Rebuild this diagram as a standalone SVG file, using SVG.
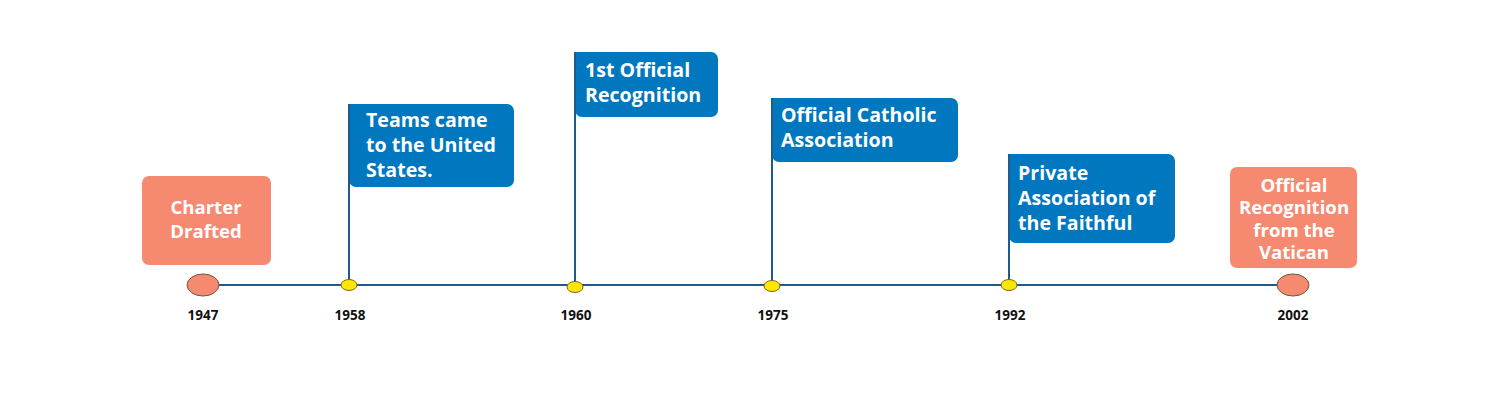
<svg xmlns="http://www.w3.org/2000/svg" width="1500" height="400" viewBox="0 0 1500 400">
<style>
.flag{fill:#0077BE}
.pole{stroke:#1F5A8A;stroke-width:2;fill:none}
.salmon{fill:#F58A71}
.ft{font-family:"Open Sans","Liberation Sans",sans-serif;font-weight:bold;font-size:19.6px;fill:#fff}
.st{font-family:"Open Sans","Liberation Sans",sans-serif;font-weight:bold;font-size:18.6px;fill:#fff;text-anchor:middle}
.yr{font-family:"Open Sans","Liberation Sans",sans-serif;font-weight:bold;font-size:13.5px;fill:#111;text-anchor:middle}
.dot{fill:#FFE600;stroke:#7A6A20;stroke-width:1}
.big{fill:#F58A71;stroke:#6B5A3A;stroke-width:1}
</style>
<rect width="1500" height="400" fill="#fff"/>
<g id="connectors">
<line class="pole" x1="219" y1="285" x2="1278" y2="285"/>
</g>
<g id="n1947">
<rect class="salmon" x="142" y="176" width="129" height="89" rx="7"/>
<text class="st" x="206" y="214">Charter</text>
<text class="st" x="206" y="238">Drafted</text>
<ellipse class="big" cx="203" cy="285" rx="16" ry="11"/>
<text class="yr" x="203" y="320">1947</text>
</g>
<g id="n1958">
<path class="flag" d="M349 104H507a7 7 0 0 1 7 7V180a7 7 0 0 1-7 7H356a7 7 0 0 1-7-7Z"/>
<line class="pole" x1="349" y1="104" x2="349" y2="285"/>
<text class="ft" x="366" y="127">Teams came</text>
<text class="ft" x="366" y="152">to the United</text>
<text class="ft" x="366" y="177">States.</text>
<ellipse class="dot" cx="349" cy="285" rx="8" ry="5.5"/>
<text class="yr" x="350" y="320">1958</text>
</g>
<g id="n1960">
<path class="flag" d="M575 52H711a7 7 0 0 1 7 7V110a7 7 0 0 1-7 7H582a7 7 0 0 1-7-7Z"/>
<line class="pole" x1="575" y1="52" x2="575" y2="285"/>
<text class="ft" x="585" y="77">1st Official</text>
<text class="ft" x="585" y="102">Recognition</text>
<ellipse class="dot" cx="575" cy="287" rx="8" ry="5.5"/>
<text class="yr" x="576" y="320">1960</text>
</g>
<g id="n1975">
<path class="flag" d="M772 98H951a7 7 0 0 1 7 7V155a7 7 0 0 1-7 7H779a7 7 0 0 1-7-7Z"/>
<line class="pole" x1="772" y1="98" x2="772" y2="285"/>
<text class="ft" x="781" y="122">Official Catholic</text>
<text class="ft" x="781" y="147">Association</text>
<ellipse class="dot" cx="772" cy="286" rx="8" ry="5.5"/>
<text class="yr" x="773" y="320">1975</text>
</g>
<g id="n1992">
<path class="flag" d="M1009 154H1168a7 7 0 0 1 7 7V236a7 7 0 0 1-7 7H1016a7 7 0 0 1-7-7Z"/>
<line class="pole" x1="1009" y1="154" x2="1009" y2="285"/>
<text class="ft" x="1018" y="180">Private</text>
<text class="ft" x="1018" y="205">Association of</text>
<text class="ft" x="1018" y="230">the Faithful</text>
<ellipse class="dot" cx="1009" cy="285" rx="8" ry="5.5"/>
<text class="yr" x="1010" y="320">1992</text>
</g>
<g id="n2002">
<rect class="salmon" x="1230" y="167" width="127" height="101" rx="7"/>
<text class="st" x="1294" y="192">Official</text>
<text class="st" x="1294" y="214">Recognition</text>
<text class="st" x="1294" y="237">from the</text>
<text class="st" x="1294" y="259">Vatican</text>
<ellipse class="big" cx="1293" cy="285" rx="16" ry="11"/>
<text class="yr" x="1293" y="320">2002</text>
</g>
</svg>
